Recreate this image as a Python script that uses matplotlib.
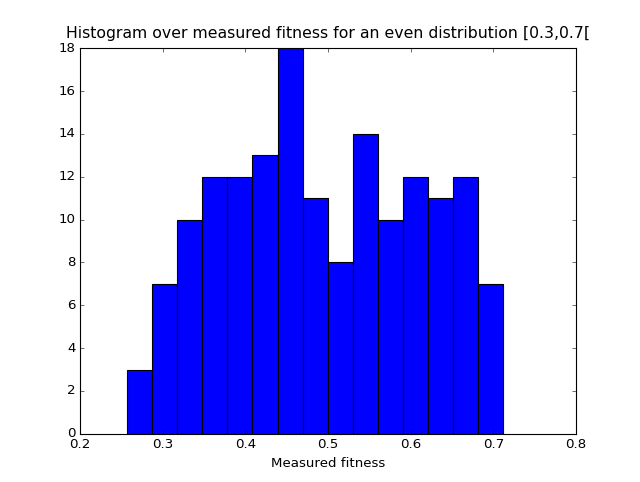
import numpy as np
import matplotlib
matplotlib.use('Agg')
import matplotlib.pyplot as plt

plt.style.use('classic')

# histogram counts, 15 bins
counts = [3, 7, 10, 12, 12, 13, 18, 11, 8, 14, 10, 12, 11, 12, 7]
lo, hi = 0.2569, 0.712
edges = np.linspace(lo, hi, len(counts) + 1)
centers = (edges[:-1] + edges[1:]) / 2

fig = plt.figure(figsize=(8, 6.025), dpi=80)
ax = fig.add_subplot(111)
ax.hist(centers, bins=edges, weights=counts, color='b', edgecolor='k')
ax.set_xlim(0.2, 0.8)
ax.set_ylim(0, 18)
ax.set_xlabel('Measured fitness')
ax.set_title('Histogram over measured fitness for an even distribution [0.3,0.7[',
             fontsize=14.2, pad=9)

fig.savefig('out.png', dpi=80)
